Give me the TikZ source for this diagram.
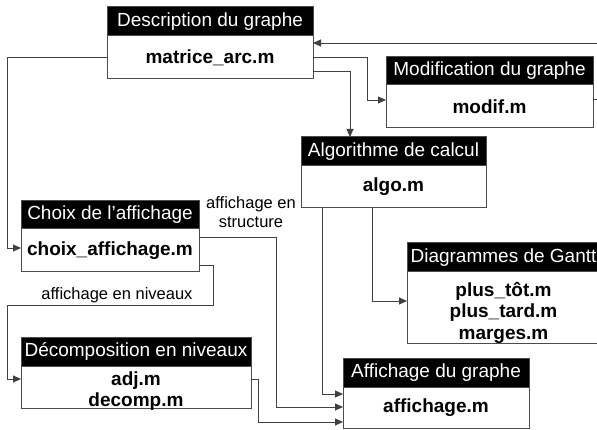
\documentclass[tikz,border=0pt]{standalone}
\usepackage{fontspec}
\setmainfont{Liberation Sans}
\usetikzlibrary{arrows.meta,calc}
\tikzset{
  hdr/.style={draw=black!70, fill=black, text=white, line width=1pt, inner sep=0pt, outer sep=0pt,
    anchor=north west, font=\fontsize{19}{22}\selectfont},
  bodybox/.style={draw=black!70, fill=white, line width=1pt, inner sep=0pt, outer sep=0pt,
    anchor=north west, align=center, font=\fontsize{19}{21}\selectfont\bfseries},
  conn/.style={draw=black!75, line width=0.9pt, -{Triangle[length=8pt,width=7pt]}},
  lbl/.style={inner sep=0pt, align=center, font=\fontsize{16.5}{18.5}\selectfont}
}
\begin{document}
\begin{tikzpicture}[x=1pt,y=-1pt]
\useasboundingbox (0,0) rectangle (597,430);
% Description
\node[hdr, minimum width=206, minimum height=29] (descH) at (107,7) {Description du graphe};
\node[bodybox, minimum width=206, minimum height=43] (desc) at (107,36) {matrice\_arc.m};
% Modification
\node[hdr, minimum width=207, minimum height=28] (modifH) at (386,57) {Modification du graphe};
\node[bodybox, minimum width=207, minimum height=43] (modif) at (386,85) {modif.m};
% Algorithme
\node[hdr, minimum width=185, minimum height=29] (algoH) at (301,137) {Algorithme de calcul};
\node[bodybox, minimum width=185, minimum height=42] (algo) at (301,166) {algo.m};
% Choix
\node[hdr, minimum width=178, minimum height=28] (choixH) at (21,201) {Choix de l’affichage};
\node[bodybox, minimum width=178, minimum height=43] (choix) at (21,229) {choix\_affichage.m};
% Gantt
\node[hdr, minimum width=193, minimum height=29] (ganttH) at (407,243) {Diagrammes de Gantt};
\node[bodybox, minimum width=193, minimum height=71] (gantt) at (407,272) {\raisebox{-6pt}[\height][\depth]{\begin{tabular}{@{}c@{}}plus\_tôt.m\\[0.5pt]plus\_tard.m\\[0.5pt]marges.m\end{tabular}}};
% Decomposition
\node[bodybox, minimum width=230, minimum height=42] (decomp) at (21,366) {\raisebox{-5pt}[\height][\depth]{\begin{tabular}{@{}c@{}}adj.m\\[0pt]decomp.m\end{tabular}}};
\node[hdr, minimum width=230, minimum height=29] (decompH) at (21,337) {Décomposition en niveaux};
% Affichage
\node[hdr, minimum width=186, minimum height=29] (affH) at (343,358) {Affichage du graphe};
\node[bodybox, minimum width=186, minimum height=41] (aff) at (343,387) {affichage.m};
% labels
\node[lbl] (lstruct) at (251,212) {affichage en\\structure};
\node[lbl] (lniv) at (117,295) {affichage en niveaux};
% connectors
\draw[conn] (desc.west) -- ++(-100,0) |- ($(choix.north west)+(0,19)$);
\draw[conn] ($(desc.north east)+(0,21)$) -- ++(54,0) |- ($(modif.north west)+(0,15)$);
\draw[conn] ($(desc.north east)+(0,35)$) -| ($(algoH.north west)+(49,0)$);
\draw[conn] ($(modif.north east)+(0,14)$) -- ++(15,0) |- ($(desc.north east)+(0,7)$);
\draw[conn] ($(algo.south west)+(21,0)$) |- ($(aff.north west)+(0,7)$);
\draw[conn] ($(algo.south west)+(71,0)$) |- ($(gantt.north west)+(0,29)$);
\draw[conn] ($(choix.north east)+(0,8)$) -- ++(77,0) |- ($(aff.north west)+(0,20)$);
\draw[conn] ($(choix.north east)+(0,36)$) -- ++(14,0) -- ++(0,40) -- ++(-206,0) |- ($(decomp.north west)+(0,13)$);
\draw[conn] ($(decomp.north east)+(0,13)$) -- ++(7,0) |- ($(aff.north west)+(0,35)$);
\end{tikzpicture}
\end{document}
